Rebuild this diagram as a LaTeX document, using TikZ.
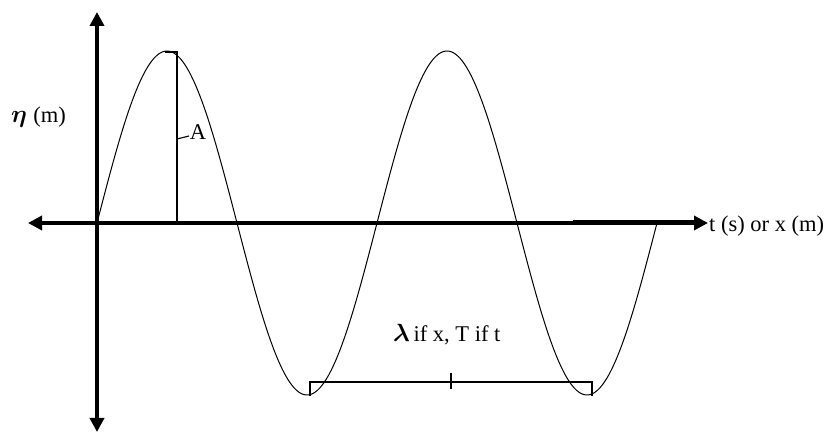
\documentclass[tikz,border=0pt]{standalone}
\usepackage{bm}
\usepackage{fontspec}
\setmainfont{Liberation Serif}
\usetikzlibrary{arrows.meta}
\newcommand{\greekbig}[1]{{\fontsize{27}{29}\selectfont$\bm{#1}$}}
\begin{document}
\begin{tikzpicture}[x=1pt,y=-1pt,
  axisline/.style={line width=4pt,-{Triangle[length=14pt,width=14pt]}},
  wave/.style={line width=1pt},
  thinline/.style={line width=1.2pt},
  lbl/.style={inner sep=0pt,font=\fontsize{22.5}{24}\selectfont}]
\useasboundingbox (0,0) rectangle (831,435);
% axis ends
\coordinate (orig) at (97,223);
\coordinate (xleft) at (28,223);
\coordinate (xright) at (708,223);
\coordinate (ytop) at (97,12);
\coordinate (ybot) at (97,432);
\draw[axisline] (orig) -- (ytop);
\draw[axisline] (orig) -- (ybot);
\draw[axisline] (orig) -- (xleft);
\draw[axisline] (orig) -- (xright);
\coordinate (thickA) at (573,223);
\coordinate (thickB) at (694,223);
\draw[line width=5pt] (thickA) -- (thickB);
% wave
\draw[wave] plot[domain=97:657,samples=300] (\x,{223-172*sin((\x-97)*9/7)});
% amplitude marker
\coordinate (peakL) at (165,52);
\coordinate (peakR) at (177,52);
\coordinate (ampBot) at (177,222);
\coordinate (ampTick) at (177,139);
\coordinate (ampTickEnd) at (189,136);
\draw[thinline] (peakL) -- (peakR) -- (ampBot);
\draw[thinline] (ampTick) -- (ampTickEnd);
\node[lbl] (amp) at (198,132) {A};
% wavelength bracket
\coordinate (brL) at (310,382);
\coordinate (brR) at (592,382);
\coordinate (brLd) at (310,396);
\coordinate (brRd) at (592,396);
\coordinate (brMt) at (451,373);
\coordinate (brMb) at (451,389);
\draw[thinline] (brLd) -- (brL) -- (brR) -- (brRd);
\draw[line width=1.5pt] (brMt) -- (brMb);
\node[lbl,anchor=west] (wl) at (393,335) {\greekbig{\lambda}\,if x, T if t};
% axis labels
\node[lbl,anchor=west] (ylab) at (11,117) {\greekbig{\eta}\;(m)};
\node[lbl,anchor=west] (xlab) at (709,226) {t (s) or x (m)};
\end{tikzpicture}
\end{document}
